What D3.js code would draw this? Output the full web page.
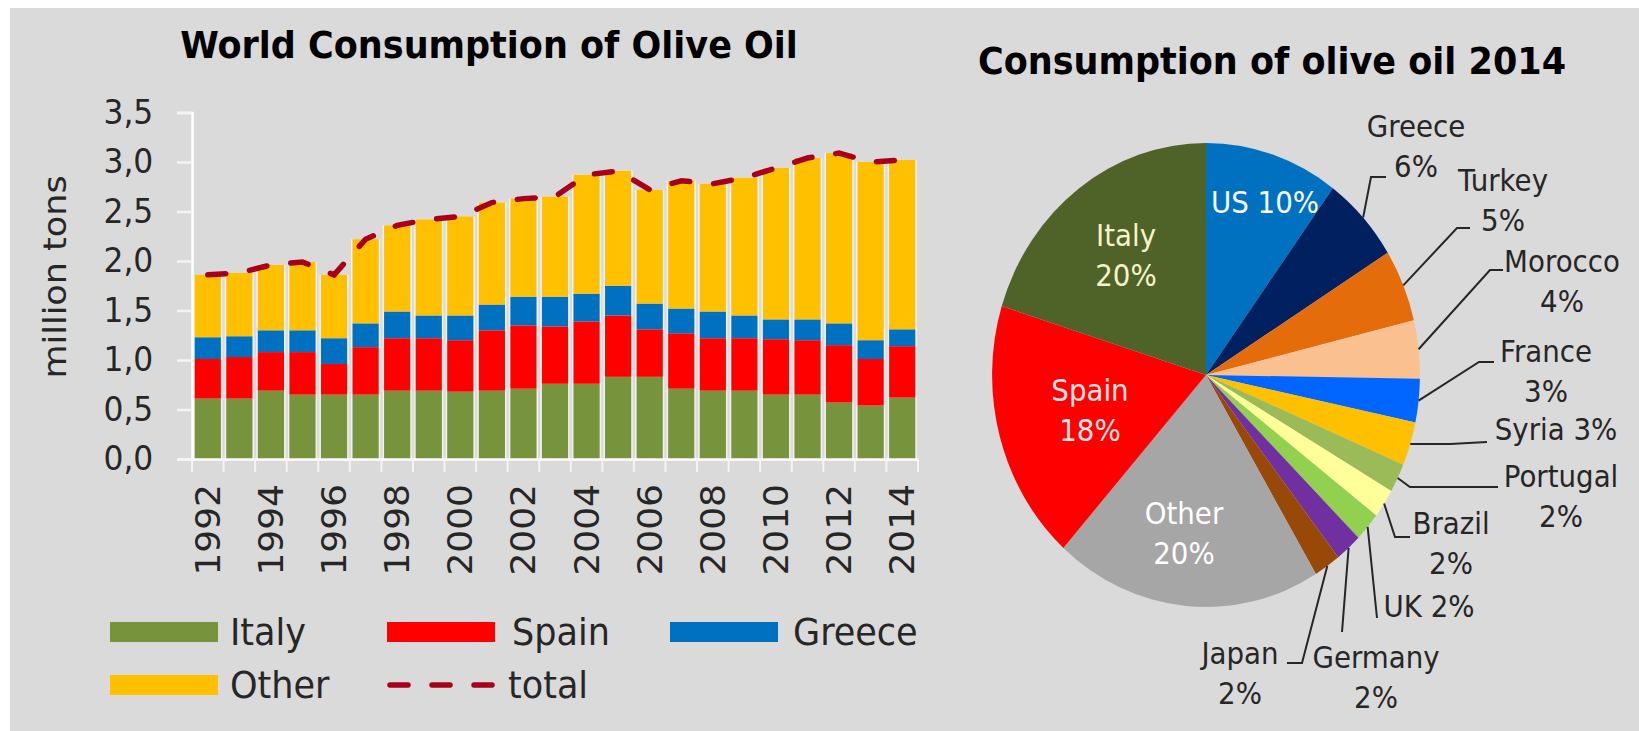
<!DOCTYPE html>
<html>
<head>
<meta charset="utf-8">
<script src="https://cdn.jsdelivr.net/npm/d3@7"></script>
<style>
  html, body { margin: 0; padding: 0; background: #ffffff; }
  svg { display: block; }
</style>
</head>
<body>
<svg id="chart" width="1639" height="731"></svg>
<script>
// ---- Data: world olive oil consumption (million tons) ----
const years  = [1992, 1993, 1994, 1995, 1996, 1997, 1998, 1999, 2000, 2001, 2002, 2003,
                2004, 2005, 2006, 2007, 2008, 2009, 2010, 2011, 2012, 2013, 2014];
const italy  = [0.61, 0.61, 0.69, 0.65, 0.65, 0.65, 0.69, 0.69, 0.68, 0.69, 0.71, 0.76,
                0.76, 0.83, 0.83, 0.71, 0.69, 0.69, 0.65, 0.65, 0.57, 0.54, 0.62];
const spain  = [0.40, 0.42, 0.39, 0.43, 0.31, 0.48, 0.53, 0.53, 0.52, 0.61, 0.64, 0.58,
                0.63, 0.62, 0.48, 0.56, 0.53, 0.53, 0.56, 0.55, 0.58, 0.47, 0.52];
const greece = [0.22, 0.21, 0.22, 0.22, 0.26, 0.24, 0.27, 0.23, 0.25, 0.26, 0.29, 0.30,
                0.28, 0.30, 0.26, 0.25, 0.27, 0.23, 0.20, 0.21, 0.22, 0.19, 0.17];
const other  = [0.63, 0.64, 0.66, 0.69, 0.64, 0.85, 0.87, 0.97, 1.00, 1.03, 0.99, 1.01,
                1.20, 1.16, 1.15, 1.29, 1.29, 1.39, 1.53, 1.63, 1.72, 1.80, 1.71];
const seriesNames = ["Italy", "Spain", "Greece", "Other"];
const yTicks = [0, 0.5, 1.0, 1.5, 2.0, 2.5, 3.0, 3.5];
const xTickYears = [1992, 1994, 1996, 1998, 2000, 2002, 2004, 2006, 2008, 2010, 2012, 2014];

// ---- Data: consumption shares 2014 (%) ----
const pieCountries = ["US", "Greece", "Turkey", "Morocco", "France", "Syria", "Portugal",
                      "Brazil", "UK", "Germany", "Japan", "Other", "Spain", "Italy"];
const pieShares    = [10, 6, 5, 4, 3, 3, 2, 2, 2, 2, 2, 20, 18, 20];

// ---- Styles ----
const barColors = { Italy: "#77933c", Spain: "#ff0000", Greece: "#0070c0", Other: "#ffc000" };
const totalColor = "#a8001a";
const pieColors = ["#0070c0", "#002060", "#e46c0a", "#fac090", "#0066ff", "#ffc000", "#9bbb59",
                   "#ffff99", "#92d050", "#7030a0", "#984807", "#a6a6a6", "#ff0000", "#4f6228"];
const FONT = "DejaVu Sans";
const SX = 0.922;            // horizontal glyph compression used for all text
const textColor = "#262626";

const W = 1639, H = 731;
const svg = d3.select("#chart");

// panel background
svg.append("rect").attr("x", 10).attr("y", 8).attr("width", W - 10).attr("height", H - 8)
  .attr("fill", "#dadada");

function txt(parent, x, y, s, o = {}) {
  return parent.append("text")
    .attr("transform", `translate(${x},${y}) scale(${SX},1)` + (o.rotate ? ` rotate(${o.rotate})` : ""))
    .attr("font-family", FONT)
    .attr("font-size", o.size || 30)
    .attr("font-weight", o.weight || "normal")
    .attr("fill", o.fill || textColor)
    .attr("text-anchor", o.anchor || "middle")
    .attr("dominant-baseline", o.baseline || "central")
    .text(s);
}

// ================= Stacked bar chart =================
const rows = years.map((yr, i) => ({ year: yr, Italy: italy[i], Spain: spain[i], Greece: greece[i], Other: other[i] }));
const totals = rows.map(r => r.Italy + r.Spain + r.Greece + r.Other);

const x = d3.scaleBand().domain(years).range([192, 918]).paddingInner(0.17).paddingOuter(0.085);
const y = d3.scaleLinear().domain([0, 3.5]).range([459, 112.5]);
const bw = x.bandwidth();

const stacked = d3.stack().keys(seriesNames)(rows);

const chart = svg.append("g");

// light outline behind each stacked column
chart.append("g").selectAll("rect").data(rows).join("rect")
  .attr("x", d => x(d.year) - 1.5)
  .attr("width", bw + 3)
  .attr("y", (d, i) => y(totals[i]))
  .attr("height", (d, i) => y(0) - y(totals[i]))
  .attr("fill", "#f2f2f2");

chart.append("g").selectAll("g").data(stacked).join("g")
  .attr("fill", s => barColors[s.key])
  .selectAll("rect").data(s => s).join("rect")
  .attr("x", d => x(d.data.year))
  .attr("width", bw)
  .attr("y", d => y(d[1]))
  .attr("height", d => y(d[0]) - y(d[1]));

// y axis
const yAxis = chart.append("g").attr("transform", `translate(192,0)`)
  .call(d3.axisLeft(y).tickValues(yTicks).tickSize(15).tickPadding(27)
    .tickFormat(d => d3.format(".1f")(d).replace(".", ",")));
yAxis.select(".domain").attr("stroke", "#ffffff").attr("stroke-width", 2.5);
yAxis.selectAll(".tick line").attr("stroke", "#f4f4f4").attr("stroke-width", 2.5);
yAxis.selectAll(".tick text")
  .attr("transform", `scale(${SX},1)`)
  .attr("font-family", FONT).attr("font-size", 34).attr("fill", textColor);

// x axis: labels at even years, tick marks at column boundaries
const xAxis = chart.append("g").attr("transform", `translate(0,${y(0)})`)
  .call(d3.axisBottom(x).tickValues(xTickYears).tickSize(0).tickSizeOuter(0));
xAxis.select(".domain").attr("stroke", "#ffffff").attr("stroke-width", 2.5);
xAxis.selectAll(".tick text")
  .attr("x", 0).attr("y", 0).attr("dy", "0.36em")
  .attr("transform", `translate(0,25) scale(${SX},1) rotate(-90)`)
  .attr("text-anchor", "end")
  .attr("font-family", FONT).attr("font-size", 36).attr("fill", textColor);

const step = x.step();
const boundaries = d3.range(years.length + 1).map(i => x(years[0]) - x.paddingInner() * step / 2 + i * step);
chart.append("g").selectAll("line").data(boundaries).join("line")
  .attr("x1", d => d).attr("x2", d => d)
  .attr("y1", y(0)).attr("y2", y(0) + 13)
  .attr("stroke", "#f4f4f4").attr("stroke-width", 2);

// total line
const totalLine = d3.line()
  .x((d, i) => x(years[i]) + bw / 2)
  .y(d => y(d));
chart.append("path").datum(totals)
  .attr("d", totalLine)
  .attr("fill", "none")
  .attr("stroke", totalColor)
  .attr("stroke-width", 5.5)
  .attr("stroke-linecap", "round")
  .attr("stroke-dasharray", "18,24");

// axis title and chart title
txt(svg, 55, 277, "million tons", { size: 35, rotate: -90 });
txt(svg, 489, 58, "World Consumption of Olive Oil", { size: 38, weight: "bold", fill: "#000", baseline: "auto" });

// legend
const legendItems = [
  { name: "Italy",  type: "rect", color: barColors.Italy,  sx: 110, tx: 230, y: 632 },
  { name: "Spain",  type: "rect", color: barColors.Spain,  sx: 387, tx: 512, y: 632 },
  { name: "Greece", type: "rect", color: barColors.Greece, sx: 670, tx: 793, y: 632 },
  { name: "Other",  type: "rect", color: barColors.Other,  sx: 110, tx: 230, y: 685 },
  { name: "total",  type: "line", color: totalColor,       sx: 387, tx: 508, y: 685 }
];
const legend = svg.append("g");
legendItems.forEach(it => {
  if (it.type === "rect") {
    legend.append("rect").attr("x", it.sx).attr("y", it.y - 10).attr("width", 108).attr("height", 20)
      .attr("fill", it.color);
  } else {
    legend.append("line").attr("x1", it.sx + 3).attr("x2", it.sx + 114).attr("y1", it.y).attr("y2", it.y)
      .attr("stroke", it.color).attr("stroke-width", 5.5).attr("stroke-linecap", "round")
      .attr("stroke-dasharray", "18,24");
  }
  txt(legend, it.tx, it.y, it.name, { size: 38, anchor: "start" });
});

// ================= Pie chart =================
const CX = 1206, CY = 375, R = 232;
const pieRows = pieCountries.map((c, i) => ({ country: c, share: pieShares[i] }));
const arcs = d3.pie().sort(null).value(d => d.share)(pieRows);
const arcGen = d3.arc().innerRadius(0).outerRadius(R);

const pg = svg.append("g").attr("transform", `translate(${CX},${CY}) scale(${SX},1)`);
pg.selectAll("path").data(arcs).join("path")
  .attr("d", arcGen)
  .attr("fill", (d, i) => pieColors[i]);

txt(svg, 1272, 74, "Consumption of olive oil 2014", { size: 38, weight: "bold", fill: "#000", baseline: "auto" });

// label placement for each slice
const pieLabelLayout = {
  US:       { lines: ["US 10%"],          x: 1265, y: 203, fill: "#ffffff" },
  Italy:    { lines: ["Italy", "20%"],    x: 1126, y: 236, fill: "#f4f4cc" },
  Spain:    { lines: ["Spain", "18%"],    x: 1090, y: 391, fill: "#ffe6e6" },
  Other:    { lines: ["Other", "20%"],    x: 1184, y: 514, fill: "#ffffff" },
  Greece:   { lines: ["Greece", "6%"],    x: 1416, y: 127, leader: [[1371, 177], [1386, 177]] },
  Turkey:   { lines: ["Turkey", "5%"],    x: 1503, y: 181, leader: [[1457, 228], [1470, 228]] },
  Morocco:  { lines: ["Morocco", "4%"],   x: 1562, y: 262, leader: [[1490, 270], [1503, 270]] },
  France:   { lines: ["France", "3%"],    x: 1546, y: 352, leader: [[1479, 362], [1494, 362]] },
  Syria:    { lines: ["Syria 3%"],        x: 1556, y: 430, leader: [[1450, 444], [1487, 442]] },
  Portugal: { lines: ["Portugal", "2%"],  x: 1561, y: 477, leader: [[1410, 487], [1498, 487]] },
  Brazil:   { lines: ["Brazil", "2%"],    x: 1451, y: 524, leader: [[1395, 537], [1410, 537]] },
  UK:       { lines: ["UK 2%"],           x: 1429, y: 607, leader: [[1377, 618]] },
  Germany:  { lines: ["Germany", "2%"],   x: 1376, y: 658, leader: [[1342, 632]] },
  Japan:    { lines: ["Japan", "2%"],     x: 1240, y: 654, leader: [[1302, 663], [1287, 663]] }
};
const lineGap = 40;
const leaderGen = d3.line();
arcs.forEach(a => {
  const lay = pieLabelLayout[a.data.country];
  if (lay.leader) {
    const mid = (a.startAngle + a.endAngle) / 2;
    const start = [CX + R * SX * Math.sin(mid), CY - R * Math.cos(mid)];
    svg.append("path").attr("d", leaderGen([start, ...lay.leader]))
      .attr("fill", "none").attr("stroke", "#262626").attr("stroke-width", 2);
  }
  lay.lines.forEach((s, k) => {
    txt(svg, lay.x, lay.y + k * lineGap, s, { size: 30, fill: lay.fill || textColor });
  });
});
</script>
</body>
</html>
